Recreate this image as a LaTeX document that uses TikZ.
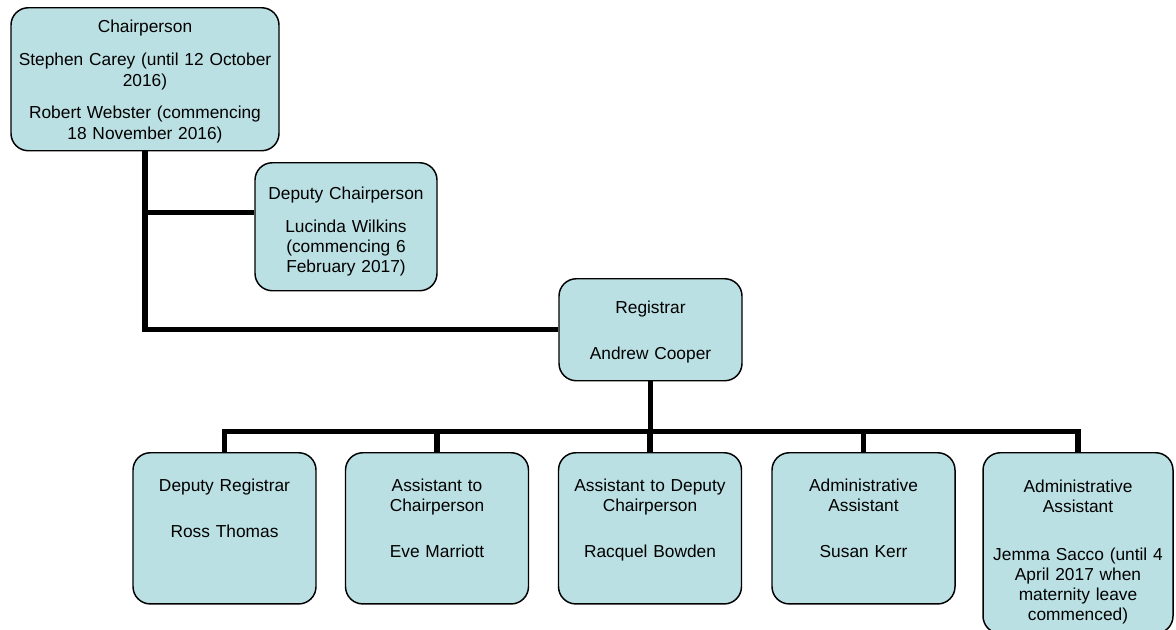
\documentclass[tikz,border=0pt]{standalone}
\usepackage{fontspec}
\setmainfont{Liberation Sans}
\usepackage{xcolor}
\definecolor{boxblue}{RGB}{187,224,227}

\begin{document}
\begin{tikzpicture}[x=0.75pt,y=-0.75pt,
    orgbox/.style={draw=black,line width=1.1pt,fill=boxblue,rounded corners=13pt,
      anchor=north,inner sep=0pt,align=center,font=\fontsize{13}{15}\selectfont},
    staffbox/.style={orgbox,text width=137.25pt,text height=29pt,text depth=84.4pt},
    orgline/.style={line width=3.8pt}]
  \useasboundingbox (0,0) rectangle (1176,629);

  % Chairperson
  \node[orgbox,text width=201pt,text height=18.75pt,text depth=88.5pt] (chair) at (145,7)
    {Chairperson\\[9.75pt]Stephen Carey (until 12 October\\[0.75pt]2016)\\[9pt]Robert Webster (commencing\\[0.75pt]18 November 2016)};

  % Deputy Chairperson
  \node[orgbox,text width=136.5pt,text height=27.75pt,text depth=68.25pt] (dchair) at (346,162)
    {Deputy Chairperson\\[9.75pt]Lucinda Wilkins\\(commencing 6\\February 2017)};

  % Registrar
  \node[orgbox,text width=137.25pt,text height=26.25pt,text depth=50.25pt] (registrar) at (650.5,278)
    {Registrar\\[19.5pt]Andrew Cooper};

  % Staff
  \node[staffbox] (dreg) at (224.5,452) {Deputy Registrar\\[19.5pt]Ross Thomas};
  \node[staffbox] (achair) at (437,452) {Assistant to\\Chairperson\\[19.5pt]Eve Marriott};
  \node[staffbox] (adchair) at (650,452) {Assistant to Deputy\\Chairperson\\[19.5pt]Racquel Bowden};
  \node[staffbox] (admin) at (863.5,452) {Administrative\\Assistant\\[19.5pt]Susan Kerr};
  \node[staffbox,text width=142.5pt,text height=30pt,text depth=105.5pt] (adminjs) at (1078,452)
    {Administrative\\Assistant\\[21pt]Jemma Sacco (until 4\\April 2017 when\\maternity leave\\commenced)};

  % Lines
  \draw[orgline] (chair.south) |- (registrar.west);
  \draw[orgline] ([yshift=10.5pt]dchair.west) -| (chair.south);
  \foreach \b in {dreg,achair,adchair,admin,adminjs}
    \draw[orgline] (registrar.south) -- ++(0,50) -| (\b.north);
\end{tikzpicture}
\end{document}
